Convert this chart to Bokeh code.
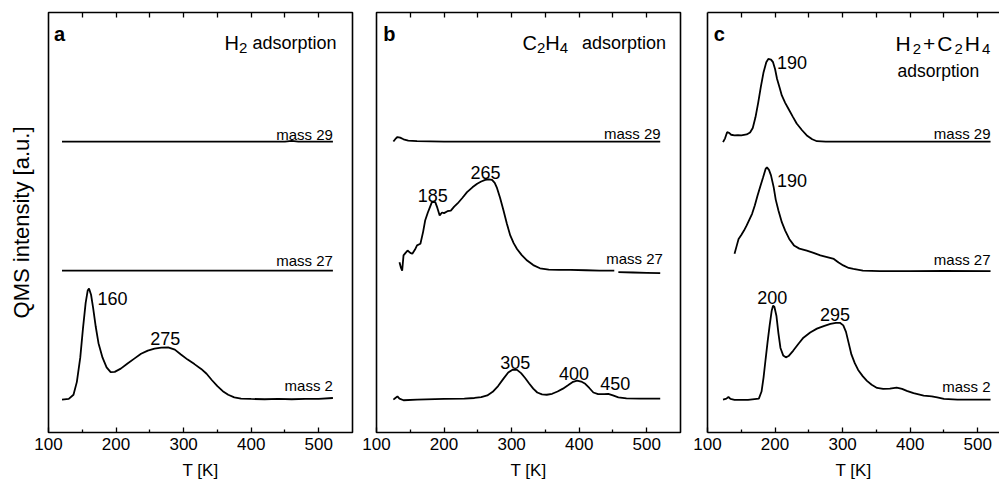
import numpy as np
from bokeh.plotting import figure
from bokeh.models import Range1d, LinearAxis, FixedTicker, Label
from bokeh.layouts import row
from bokeh.embed import file_html
from bokeh.resources import INLINE

FONT = "Liberation Sans"

# ---------------- data ----------------
OFFSET_M2, OFFSET_M27, OFFSET_M29 = 0.0, 4.0, 8.0
X_TICKS = [100, 200, 300, 400, 500]
X_MINOR = [150, 250, 350, 450]
X_TOP = [150, 200, 250, 300, 350, 400, 450, 500]

# panel a : H2 adsorption
a_m2_T = [120, 130, 137, 142, 147, 151, 155, 158, 160, 163, 166, 170, 174, 180, 186, 192, 198, 207,
          217, 227, 237, 247, 257, 267, 277, 287, 296, 306, 316, 326, 334, 342, 350, 358, 366, 375,
          385, 400, 420, 440, 460, 480, 500, 521]
a_m2_I = [0.0, 0.02, 0.15, 0.55, 1.3, 2.2, 3.0, 3.38, 3.44, 3.25, 2.85, 2.25, 1.75, 1.3, 1.0, 0.85,
          0.86, 0.96, 1.12, 1.27, 1.42, 1.52, 1.58, 1.61, 1.62, 1.55, 1.40, 1.24, 1.10, 0.95, 0.80,
          0.60, 0.42, 0.26, 0.15, 0.07, 0.03, 0.02, 0.01, 0.02, 0.01, 0.02, 0.02, 0.05]
a_m27_T = [120, 521]
a_m27_I = [0.0, 0.0]
a_m29_T = [120, 450, 460, 470, 521]
a_m29_I = [0.0, 0.0, 0.02, 0.0, 0.0]

# panel b : C2H4 adsorption
b_m2_T = [125, 128, 131, 134, 140, 160, 200, 230, 245, 255, 264, 272, 280, 288, 295, 302, 308, 314,
          320, 326, 332, 338, 345, 352, 360, 368, 376, 384, 391, 397, 403, 409, 415, 421, 428, 437,
          443, 450, 458, 470, 490, 520]
b_m2_I = [0.0, 0.05, 0.1, 0.03, -0.02, 0.0, 0.02, 0.03, 0.05, 0.08, 0.13, 0.24, 0.42, 0.65, 0.84,
          0.93, 0.92, 0.82, 0.67, 0.5, 0.34, 0.22, 0.16, 0.15, 0.18, 0.25, 0.34, 0.45, 0.55, 0.59,
          0.56, 0.49, 0.36, 0.22, 0.17, 0.17, 0.18, 0.13, 0.07, 0.04, 0.03, 0.03]
b_m27_T = [134, 136, 138, 140, 143, 146, 150, 153, 157, 160, 165, 169, 172, 176, 179, 182, 187, 190,
           193.5, 197, 200, 205, 210, 215, 220, 227, 234, 242, 249, 255, 261, 266, 271, 275, 278,
           283, 288, 293, 298, 303, 308, 315, 323, 332, 342, 355, 370, 387, 410, 430, 452, 455,
           458, 480, 500, 520]
b_m27_I = [0.26, 0.1, 0.0, 0.47, 0.55, 0.62, 0.55, 0.52, 0.65, 0.78, 0.83, 1.2, 1.55, 1.8, 1.96,
           2.12, 2.12, 1.95, 1.71, 1.8, 1.78, 1.84, 1.86, 1.98, 2.08, 2.25, 2.43, 2.58, 2.69, 2.76,
           2.81, 2.83, 2.81, 2.72, 2.58, 2.25, 1.86, 1.45, 1.09, 0.85, 0.67, 0.48, 0.31, 0.17, 0.07,
           0.03, 0.02, 0.02, 0.01, 0.0, 0.0, np.nan, -0.05, -0.06, -0.07, -0.08]
b_m29_T = [125, 128, 131, 135, 140, 147, 160, 200, 300, 400, 520]
b_m29_I = [0.0, 0.08, 0.14, 0.12, 0.07, 0.03, 0.01, 0.0, 0.0, 0.0, 0.0]

# panel c : H2 + C2H4 adsorption
c_m2_T = [123, 128, 131, 134, 140, 160, 176, 180, 183, 186, 189, 192, 195, 197, 199, 202, 205, 208,
          212, 216, 220, 227, 235, 242, 252, 262, 272, 282, 290, 296, 301, 305, 309, 313, 318, 323,
          330, 336, 343, 351, 360, 370, 380, 388, 395, 405, 420, 432, 440, 450, 470, 519]
c_m2_I = [0.0, 0.03, 0.08, 0.02, -0.01, -0.01, 0.03, 0.25, 0.69, 1.25, 1.8, 2.3, 2.75, 2.91, 2.88,
          2.6, 2.05, 1.6, 1.37, 1.31, 1.35, 1.52, 1.74, 1.92, 2.08, 2.2, 2.28, 2.35, 2.38, 2.38, 2.3,
          2.1, 1.75, 1.4, 1.13, 0.92, 0.72, 0.58, 0.46, 0.36, 0.33, 0.34, 0.37, 0.33, 0.27, 0.2,
          0.12, 0.1, 0.07, 0.02, 0.0, 0.0]
c_m27_T = [140, 143, 146, 150, 154, 158, 162, 166, 170, 174, 178, 182, 186, 188, 191, 194, 198, 201,
           205, 210, 215, 221, 228, 236, 247, 257, 267, 277, 287, 294, 301, 309, 316, 330, 355, 400,
           450, 519]
c_m27_I = [0.52, 0.75, 0.98, 1.1, 1.24, 1.4, 1.58, 1.76, 2.02, 2.32, 2.6, 2.87, 3.15, 3.2, 3.12, 2.95,
           2.58, 2.2, 1.86, 1.5, 1.24, 0.98, 0.78, 0.68, 0.62, 0.55, 0.47, 0.42, 0.36, 0.25, 0.16,
           0.08, 0.05, 0.0, -0.02, -0.02, -0.01, -0.02]
c_m29_T = [123, 126, 129, 132, 135, 140, 145, 150, 158, 163, 167, 171, 175, 179, 183, 187, 190, 194,
           197, 200, 203, 207, 210, 215, 220, 226, 232, 240, 247, 255, 262, 275, 300, 400, 519]
c_m29_I = [-0.02, 0.1, 0.29, 0.27, 0.21, 0.19, 0.2, 0.19, 0.22, 0.28, 0.42, 0.75, 1.2, 1.7, 2.15,
           2.46, 2.56, 2.54, 2.46, 2.25, 1.94, 1.65, 1.43, 1.2, 1.01, 0.78, 0.56, 0.35, 0.19, 0.07,
           0.01, 0.0, 0.0, 0.0, 0.0]

# ---------------- helpers ----------------
CHAR_W = {"H": 0.722, "C": 0.722, "+": 0.584, "2": 0.556, "4": 0.556}
PX_PER_K = 304 / 450.0


def make_panel(width, b_left, b_right, x_end, outline, ylabel=None):
    p = figure(width=width, height=483, x_range=Range1d(100, x_end), y_range=Range1d(-1.02, 12.0),
               output_backend="svg", toolbar_location=None, x_axis_location=None,
               y_axis_location=None, min_border_left=b_left, min_border_right=b_right,
               min_border_top=12, min_border_bottom=51, background_fill_color="white",
               border_fill_color="white")
    p.grid.visible = False
    p.outline_line_color = "black" if outline else None
    p.outline_line_width = 1.6
    line_col = None if outline else "black"

    xb = LinearAxis(ticker=FixedTicker(ticks=X_TICKS, minor_ticks=X_MINOR), axis_label="T [K]")
    xb.major_tick_in = 5
    xb.major_tick_out = 0
    xb.minor_tick_in = 3
    xb.minor_tick_out = 0
    xb.major_tick_line_width = 1.3
    xb.minor_tick_line_width = 1.3
    xb.axis_line_color = line_col
    xb.axis_line_width = 1.6
    xb.major_label_text_font = FONT
    xb.major_label_text_font_size = "17px"
    xb.major_label_text_color = "black"
    xb.major_label_standoff = 5
    xb.axis_label_text_font = FONT
    xb.axis_label_text_font_size = "17px"
    xb.axis_label_text_font_style = "normal"
    xb.axis_label_text_color = "black"
    xb.axis_label_standoff = 8
    p.add_layout(xb, "below")

    xt = LinearAxis(ticker=FixedTicker(ticks=[], minor_ticks=X_TOP))
    xt.major_tick_in = 0
    xt.major_tick_out = 0
    xt.minor_tick_in = 5
    xt.minor_tick_out = 0
    xt.minor_tick_line_width = 1.3
    xt.axis_line_color = line_col
    xt.axis_line_width = 1.6
    xt.major_label_standoff = 0
    p.add_layout(xt, "above")

    yl = LinearAxis(ticker=FixedTicker(ticks=[]), axis_label=ylabel)
    yl.major_tick_in = 0
    yl.major_tick_out = 0
    yl.minor_tick_in = 0
    yl.minor_tick_out = 0
    yl.major_label_standoff = 0
    yl.axis_line_color = line_col
    yl.axis_line_width = 1.6
    yl.axis_label_text_font = FONT
    yl.axis_label_text_font_size = "22px"
    yl.axis_label_text_font_style = "normal"
    yl.axis_label_text_color = "black"
    yl.axis_label_standoff = 15
    p.add_layout(yl, "left")
    return p


def trace(p, T, I, off):
    y = np.asarray(I, dtype=float) + off
    p.line(list(T), list(y), line_color="black", line_width=1.8)


def label(p, x, y, text, size="18px", align="left", style="normal"):
    p.add_layout(Label(x=x, y=y, text=text, text_font=FONT, text_font_size=size,
                       text_align=align, text_baseline="alphabetic", text_color="black",
                       text_font_style=style))


def formula(p, x, y, pieces, main=20, sub=15, gap=0.0):
    off = 0.0
    for txt, is_sub in pieces:
        size = sub if is_sub else main
        p.add_layout(Label(x=x, y=y, text=txt, text_font=FONT, text_font_size=f"{size}px",
                           text_align="left", text_baseline="alphabetic", text_color="black",
                           x_offset=off, y_offset=-5 if is_sub else 0))
        off += CHAR_W[txt] * size + gap


# ---------------- panels ----------------
pa = make_panel(354, 48, 2, 550, True, "QMS intensity [a.u.]")
trace(pa, a_m2_T, a_m2_I, OFFSET_M2)
trace(pa, a_m27_T, a_m27_I, OFFSET_M27)
trace(pa, a_m29_T, a_m29_I, OFFSET_M29)
label(pa, 108, 11.34, "a", size="20px", style="bold")
formula(pa, 360.5, 11.04, [("H", False), ("2", True)])
label(pa, 526.3, 11.04, "adsorption", size="18px", align="right")
label(pa, 172.4, 3.12, "160")
label(pa, 272.7, 1.88, "275", align="center")
label(pa, 521, 8.22, "mass 29", size="15px", align="right")
label(pa, 521, 4.31, "mass 27", size="15px", align="right")
label(pa, 521, 0.43, "mass 2", size="15px", align="right")

pb = make_panel(328, 22, 2, 550, True)
trace(pb, b_m2_T, b_m2_I, OFFSET_M2)
trace(pb, b_m27_T, b_m27_I, OFFSET_M27)
trace(pb, b_m29_T, b_m29_I, OFFSET_M29)
label(pb, 110, 11.34, "b", size="20px", style="bold")
formula(pb, 316.1, 11.04, [("C", False), ("2", True), ("H", False), ("4", True)])
label(pb, 528.5, 11.04, "adsorption", size="18px", align="right")
label(pb, 183.2, 6.32, "185", align="center")
label(pb, 261.5, 7.05, "265", align="center")
label(pb, 305.3, 1.16, "305", align="center")
label(pb, 392.2, 0.80, "400", align="center")
label(pb, 453.5, 0.49, "450", align="center")
label(pb, 520.5, 8.26, "mass 29", size="15px", align="right")
label(pb, 524, 4.36, "mass 27", size="15px", align="right")

pc = make_panel(317, 25, 0, 100 + 292 / PX_PER_K, False)
trace(pc, c_m2_T, c_m2_I, OFFSET_M2)
trace(pc, c_m27_T, c_m27_I, OFFSET_M27)
trace(pc, c_m29_T, c_m29_I, OFFSET_M29)
label(pc, 109.3, 11.34, "c", size="20px", style="bold")
formula(pc, 378.3, 11.03, [("H", False), ("2", True), ("+", False), ("C", False), ("2", True),
                           ("H", False), ("4", True)], main=21, sub=15, gap=2)
label(pc, 381.2, 10.2, "adsorption", size="17.5px")
label(pc, 202.9, 10.46, "190")
label(pc, 202.9, 6.79, "190")
label(pc, 196, 3.17, "200", align="center")
label(pc, 288.6, 2.63, "295", align="center")
label(pc, 519, 8.26, "mass 29", size="15px", align="right")
label(pc, 519, 4.33, "mass 27", size="15px", align="right")
label(pc, 519, 0.40, "mass 2", size="15px", align="right")

layout = row(pa, pb, pc)
open("out.html", "w").write(file_html(layout, INLINE))
